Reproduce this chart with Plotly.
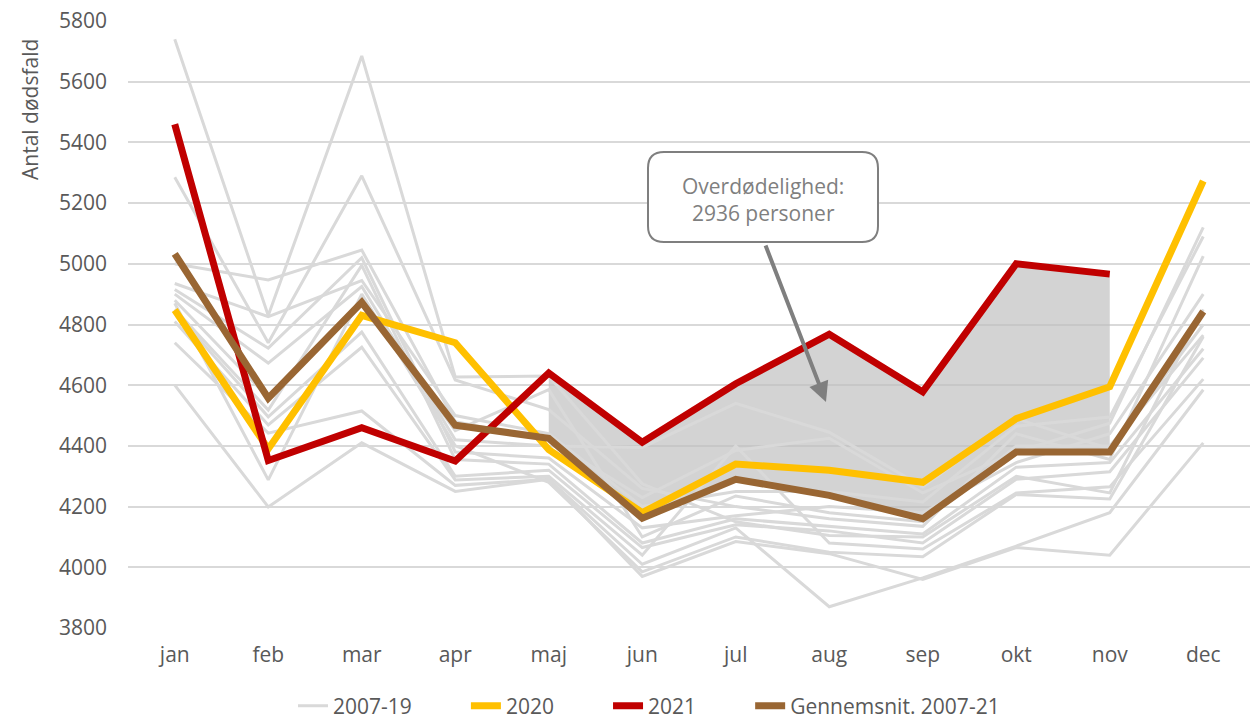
import plotly.graph_objects as go

months = ["jan", "feb", "mar", "apr", "maj", "jun", "jul", "aug", "sep", "okt", "nov", "dec"]

g2007 = [5740, 4830, 5685, 4627, 4630, 4275, 4150, 4105, 4100, 4300, 4245, 4850]
g2008 = [5285, 4740, 5290, 4617, 4520, 4260, 4200, 4160, 4135, 4440, 4355, 5025]
g2009 = [5000, 4947, 5045, 4480, 4420, 4230, 4385, 4425, 4245, 4380, 4475, 5120]
g2010 = [4935, 4826, 4945, 4500, 4440, 4200, 4250, 4250, 4215, 4465, 4495, 5090]
g2011 = [4915, 4722, 5020, 4380, 4360, 4130, 4170, 4200, 4180, 4345, 4440, 4900]
g2012 = [4900, 4673, 4925, 4420, 4400, 4395, 4540, 4445, 4265, 4490, 4390, 4800]
g2013 = [4880, 4560, 4870, 4450, 4585, 4100, 4235, 4180, 4150, 4400, 4400, 4765]
g2014 = [4850, 4518, 4995, 4355, 4340, 4080, 4160, 4135, 4110, 4330, 4345, 4720]
g2015 = [4840, 4496, 4775, 4300, 4320, 4065, 4140, 4120, 4080, 4290, 4315, 4690]
g2016 = [4810, 4469, 4725, 4288, 4300, 4040, 4400, 4080, 4060, 4245, 4265, 4620]
g2017 = [4740, 4442, 4515, 4270, 4290, 4010, 4130, 3870, 3965, 4070, 4180, 4585]
g2018 = [4870, 4288, 4900, 4400, 4280, 3985, 4100, 4050, 4035, 4240, 4225, 4760]
g2019 = [4600, 4199, 4410, 4250, 4290, 3970, 4085, 4045, 3960, 4065, 4040, 4410]
gray_series = [g2007, g2008, g2009, g2010, g2011, g2012, g2013,
               g2014, g2015, g2016, g2017, g2018, g2019]

y2020 = [4848, 4390, 4830, 4740, 4388, 4180, 4340, 4320, 4280, 4490, 4595, 5273]
y2021 = [5460, 4352, 4460, 4350, 4640, 4412, 4605, 4768, 4578, 5000, 4966, None]
avg = [5033, 4557, 4873, 4468, 4425, 4162, 4290, 4237, 4160, 4380, 4380, 4843]

legend_names = ["2007-19", "2020", "2021", "Gennemsnit. 2007-21"]

excess_months = months[4:11]
excess_top = y2021[4:11]
excess_bottom = avg[4:11]

y_ticks = [3800, 4000, 4200, 4400, 4600, 4800, 5000, 5200, 5400, 5600, 5800]

FONT = "Open Sans"
TXT = "#595959"
PAD = "\u00a0" * 9

fig = go.Figure()

# shaded excess-mortality area
fig.add_trace(go.Scatter(x=excess_months, y=excess_bottom, mode="lines",
                         line=dict(width=0, color="rgba(0,0,0,0)"),
                         showlegend=False, hoverinfo="skip"))
fig.add_trace(go.Scatter(x=excess_months, y=excess_top, mode="lines",
                         line=dict(width=0, color="rgba(0,0,0,0)"),
                         fill="tonexty", fillcolor="rgba(190,190,190,0.68)",
                         showlegend=False, hoverinfo="skip"))

for i, s in enumerate(gray_series):
    fig.add_trace(go.Scatter(x=months, y=s, mode="lines",
                             line=dict(color="#d9d9d9", width=3),
                             name=legend_names[0] + PAD, legendgroup="gray",
                             showlegend=(i == 0)))

fig.add_trace(go.Scatter(x=months, y=y2020, mode="lines", name=legend_names[1] + PAD,
                         line=dict(color="#ffc000", width=7)))
fig.add_trace(go.Scatter(x=months, y=y2021, mode="lines", name=legend_names[2] + PAD,
                         line=dict(color="#c00000", width=7)))
fig.add_trace(go.Scatter(x=months, y=avg, mode="lines", name=legend_names[3],
                         line=dict(color="#996633", width=7)))

# layout geometry helpers (pixels -> paper)
L, R, T, B = 128, 0, 21, 94
W, H = 1250, 722
PW, PH = W - L - R, H - T - B


def px(xp):
    return (xp - L) / PW


def py(yp):
    return (H - B - yp) / PH


# rounded box
x0, x1, y0, y1, r = 648, 878, 152, 242, 16
path = (f"M {px(x0 + r)},{py(y0)} L {px(x1 - r)},{py(y0)} "
        f"Q {px(x1)},{py(y0)} {px(x1)},{py(y0 + r)} "
        f"L {px(x1)},{py(y1 - r)} Q {px(x1)},{py(y1)} {px(x1 - r)},{py(y1)} "
        f"L {px(x0 + r)},{py(y1)} Q {px(x0)},{py(y1)} {px(x0)},{py(y1 - r)} "
        f"L {px(x0)},{py(y0 + r)} Q {px(x0)},{py(y0)} {px(x0 + r)},{py(y0)} Z")
fig.add_shape(type="path", path=path, xref="paper", yref="paper",
              line=dict(color="#7f7f7f", width=2), fillcolor="white", layer="above")

fig.add_annotation(x=px(763), y=py(199), xref="paper", yref="paper",
                   xanchor="center", yanchor="middle",
                   text="Overdødelighed:<br>2936 personer", showarrow=False,
                   font=dict(family=FONT, size=21, color="#7f7f7f"), align="center")

fig.add_annotation(x=px(826), y=py(402), xref="paper", yref="paper", text="",
                   showarrow=True, ax=765 - 826, ay=244 - 402,
                   arrowcolor="#7f7f7f", arrowwidth=4, arrowhead=2, arrowsize=1)

fig.add_annotation(x=px(30), y=py(110), xref="paper", yref="paper",
                   xanchor="center", yanchor="middle",
                   text="Antal dødsfald", textangle=-90, showarrow=False,
                   font=dict(family=FONT, size=21, color=TXT))

fig.update_layout(
    width=W, height=H,
    margin=dict(l=L, r=R, t=T, b=B, autoexpand=False),
    plot_bgcolor="white", paper_bgcolor="white",
    font=dict(family=FONT, size=21, color=TXT),
    showlegend=True,
    legend=dict(orientation="h", x=px(649), xanchor="center",
                y=py(706), yanchor="middle", font=dict(size=21, color=TXT),
                tracegroupgap=0),
    xaxis=dict(type="category", categoryorder="array", categoryarray=months,
               range=[-0.5, 11.5], showgrid=False, showline=False, ticks="",
               zeroline=False, automargin=False,
               tickfont=dict(size=21, color=TXT), ticklabelstandoff=12),
    yaxis=dict(range=[3800, 5800], tickvals=y_ticks, showgrid=True,
               gridcolor="#d9d9d9", gridwidth=1.5, zeroline=False,
               showline=False, ticks="", automargin=False,
               tickfont=dict(size=21, color=TXT), ticklabelstandoff=20),
)

fig.write_html("out.html",
               config={"displayModeBar": False},
               post_script="document.body.style.margin='0';"
                           "document.documentElement.style.overflow='hidden';")
